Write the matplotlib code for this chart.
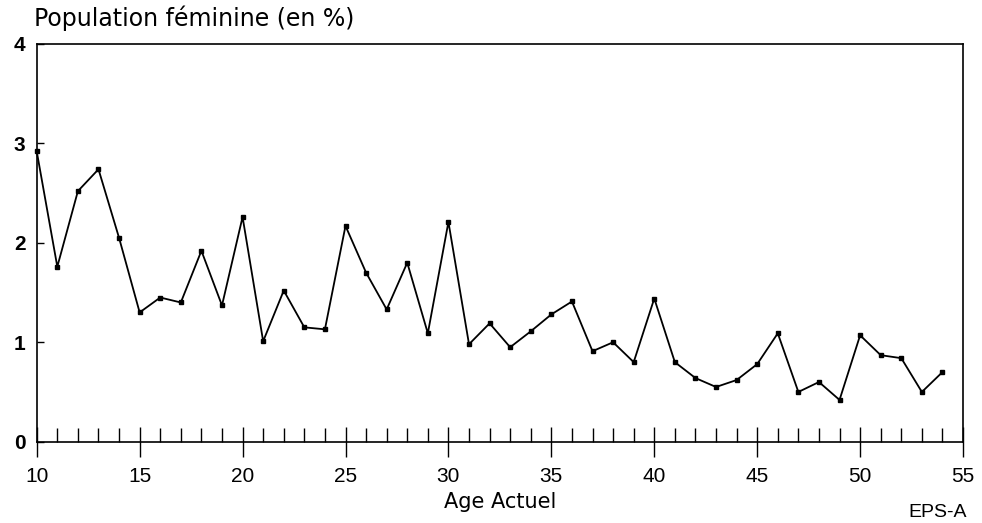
import numpy as np
import matplotlib
matplotlib.use("Agg")
import matplotlib.pyplot as plt
from matplotlib.ticker import MultipleLocator

plt.rcParams['font.family'] = ['Liberation Sans', 'DejaVu Sans']

# age actuel / population feminine (en %)
ages = list(range(10, 55))
pct = [2.92, 1.76, 2.52, 2.74, 2.05, 1.30, 1.45, 1.40, 1.92, 1.37,
       2.26, 1.01, 1.52, 1.15, 1.13, 2.17, 1.70, 1.33, 1.80, 1.09,
       2.21, 0.98, 1.19, 0.95, 1.11, 1.28, 1.41, 0.91, 1.00, 0.80,
       1.44, 0.80, 0.64, 0.55, 0.62, 0.78, 1.09, 0.50, 0.60, 0.42,
       1.07, 0.87, 0.84, 0.50, 0.70]

x_ticks = [10, 15, 20, 25, 30, 35, 40, 45, 50, 55]
y_ticks = [0, 1, 2, 3, 4]

fig = plt.figure(figsize=(9.82, 5.23), dpi=100)
ax = fig.add_axes([0.0374, 0.1555, 0.9433, 0.7604])

ax.plot(ages, pct, color='black', lw=1.3, marker='s', ms=2.6,
        mec='black', mfc='black', clip_on=False)

ax.set_xlim(10, 55)
ax.set_ylim(0, 4)
ax.set_xticks(x_ticks)
ax.xaxis.set_minor_locator(MultipleLocator(1))
ax.set_yticks(y_ticks)

for s in ax.spines.values():
    s.set_linewidth(1.2)
    s.set_color('black')

ax.tick_params(axis='x', which='major', direction='inout', length=21,
               width=1.0, labelsize=15, pad=8)
ax.tick_params(axis='x', which='minor', direction='in', length=10, width=1.0)
ax.tick_params(axis='y', which='major', direction='in', length=5,
               width=1.0, labelsize=15, pad=8)
for lab in ax.get_yticklabels():
    lab.set_fontweight('bold')

ax.set_xlabel('Age Actuel', fontsize=15, family='DejaVu Sans', labelpad=4)
fig.text(0.035, 0.965, 'Population féminine (en %)', fontsize=17,
         family='DejaVu Sans', ha='left', va='center')
fig.text(0.925, 0.004, 'EPS-A', fontsize=14, ha='left', va='bottom')

fig.savefig('out.png', dpi=100)
